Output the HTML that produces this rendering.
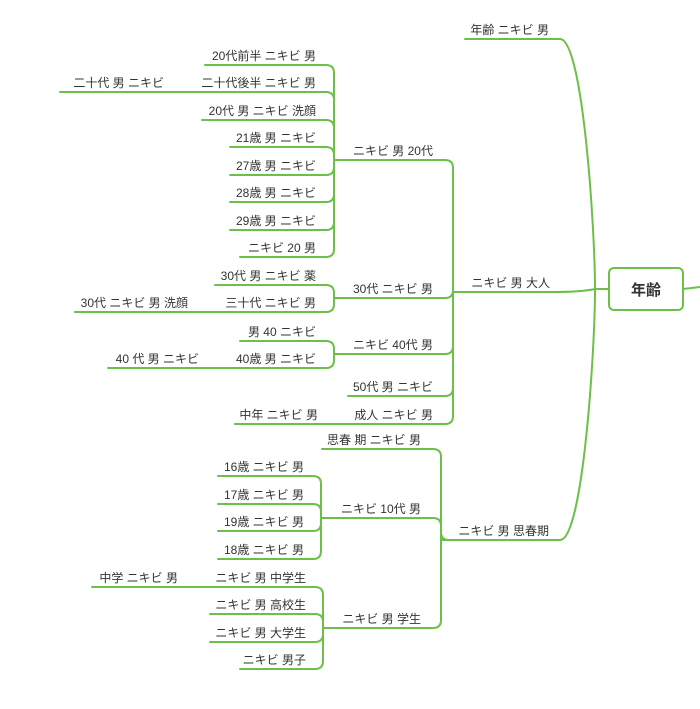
<!DOCTYPE html>
<html><head><meta charset="utf-8"><style>
html,body{margin:0;padding:0;background:#fff;}
svg{display:block;}
text{font-family:"Liberation Sans","Noto Sans CJK JP",sans-serif;font-size:12px;fill:#333;text-anchor:end;}
.l{stroke:#6cc04a;stroke-width:2;fill:none;stroke-linecap:round;}
</style></head><body>
<svg width="700" height="709" viewBox="0 0 700 709" xmlns="http://www.w3.org/2000/svg">
<rect x="609" y="268" width="74" height="42" rx="5" fill="#fff" stroke="#6cc04a" stroke-width="2"/>
<text x="646" y="295" style="font-size:15px;text-anchor:middle;font-weight:bold;fill:#333">年齢</text>
<path class="l" d="M683,289 L700,287"/>
<path class="l" d="M560,39 C583,39 595,230 595,289 C595,350 583,540 560,540"/>
<path class="l" d="M595,289 L609,289"/>
<path class="l" d="M453,292 L555,292 Q580,292 595,289"/>
<path class="l" d="M465,39 L560,39"/><text x="549" y="34">年齢 ニキビ 男</text>
<text x="550" y="287">ニキビ 男 大人</text>
<path class="l" d="M441,540 L560,540"/><text x="549" y="535">ニキビ 男 思春期</text>

<path class="l" d="M445,160 Q453,160 453,168 L453,416 Q453,424 445,424"/>
<path class="l" d="M334,160 L445,160"/><text x="433" y="155">ニキビ 男 20代</text>
<path class="l" d="M326,65 Q334,65 334,73 L334,249 Q334,257 326,257"/>
<path class="l" d="M205,65 L326,65"/><text x="316" y="60">20代前半 ニキビ 男</text>
<path class="l" d="M60,92 L326,92 Q334,92 334,100"/><text x="316" y="87">二十代後半 ニキビ 男</text><text x="164" y="87">二十代 男 ニキビ</text>
<path class="l" d="M202,120 L326,120 Q334,120 334,128"/><text x="316" y="115">20代 男 ニキビ 洗顔</text>
<path class="l" d="M230,147 L326,147 Q334,147 334,155"/><text x="316" y="142">21歳 男 ニキビ</text>
<path class="l" d="M230,175 L326,175 Q334,175 334,167"/><text x="316" y="170">27歳 男 ニキビ</text>
<path class="l" d="M230,202 L326,202 Q334,202 334,194"/><text x="316" y="197">28歳 男 ニキビ</text>
<path class="l" d="M230,230 L326,230 Q334,230 334,222"/><text x="316" y="225">29歳 男 ニキビ</text>
<path class="l" d="M240,257 L326,257"/><text x="316" y="252">ニキビ 20 男</text>
<path class="l" d="M334,298 L445,298 Q453,298 453,290"/><text x="433" y="293">30代 ニキビ 男</text>
<path class="l" d="M215,285 L326,285 Q334,285 334,293 L334,304 Q334,312 326,312 L75,312"/>
<text x="316" y="280">30代 男 ニキビ 薬</text><text x="316" y="307">三十代 ニキビ 男</text><text x="188" y="307">30代 ニキビ 男 洗顔</text>
<path class="l" d="M334,354 L445,354 Q453,354 453,346"/><text x="433" y="349">ニキビ 40代 男</text>
<path class="l" d="M240,341 L326,341 Q334,341 334,349 L334,360 Q334,368 326,368 L108,368"/>
<text x="316" y="336">男 40 ニキビ</text><text x="316" y="363">40歳 男 ニキビ</text><text x="199" y="363">40 代 男 ニキビ</text>
<path class="l" d="M348,396 L445,396 Q453,396 453,388"/><text x="433" y="391">50代 男 ニキビ</text>
<path class="l" d="M235,424 L445,424"/><text x="433" y="419">成人 ニキビ 男</text><text x="318" y="419">中年 ニキビ 男</text>

<path class="l" d="M322,449 L433,449 Q441,449 441,457 L441,620 Q441,628 433,628 L323,628"/>
<path class="l" d="M441,532 Q441,540 449,540"/>
<text x="421" y="444">思春 期 ニキビ 男</text>
<path class="l" d="M321,518 L433,518 Q441,518 441,526"/><text x="421" y="513">ニキビ 10代 男</text>
<text x="421" y="623">ニキビ 男 学生</text>
<path class="l" d="M218,476 L313,476 Q321,476 321,484 L321,551 Q321,559 313,559 L218,559"/>
<path class="l" d="M218,504 L313,504 Q321,504 321,512"/>
<path class="l" d="M218,531 L313,531 Q321,531 321,523"/>
<text x="304" y="471">16歳 ニキビ 男</text><text x="304" y="499">17歳 ニキビ 男</text><text x="304" y="526">19歳 ニキビ 男</text><text x="304" y="554">18歳 ニキビ 男</text>
<path class="l" d="M92,587 L315,587 Q323,587 323,595 L323,661 Q323,669 315,669 L240,669"/>
<path class="l" d="M210,614 L315,614 Q323,614 323,622"/>
<path class="l" d="M210,642 L315,642 Q323,642 323,634"/>
<text x="306" y="582">ニキビ 男 中学生</text><text x="178" y="582">中学 ニキビ 男</text>
<text x="306" y="609">ニキビ 男 高校生</text><text x="306" y="637">ニキビ 男 大学生</text><text x="306" y="664">ニキビ 男子</text>
</svg>
</body></html>
